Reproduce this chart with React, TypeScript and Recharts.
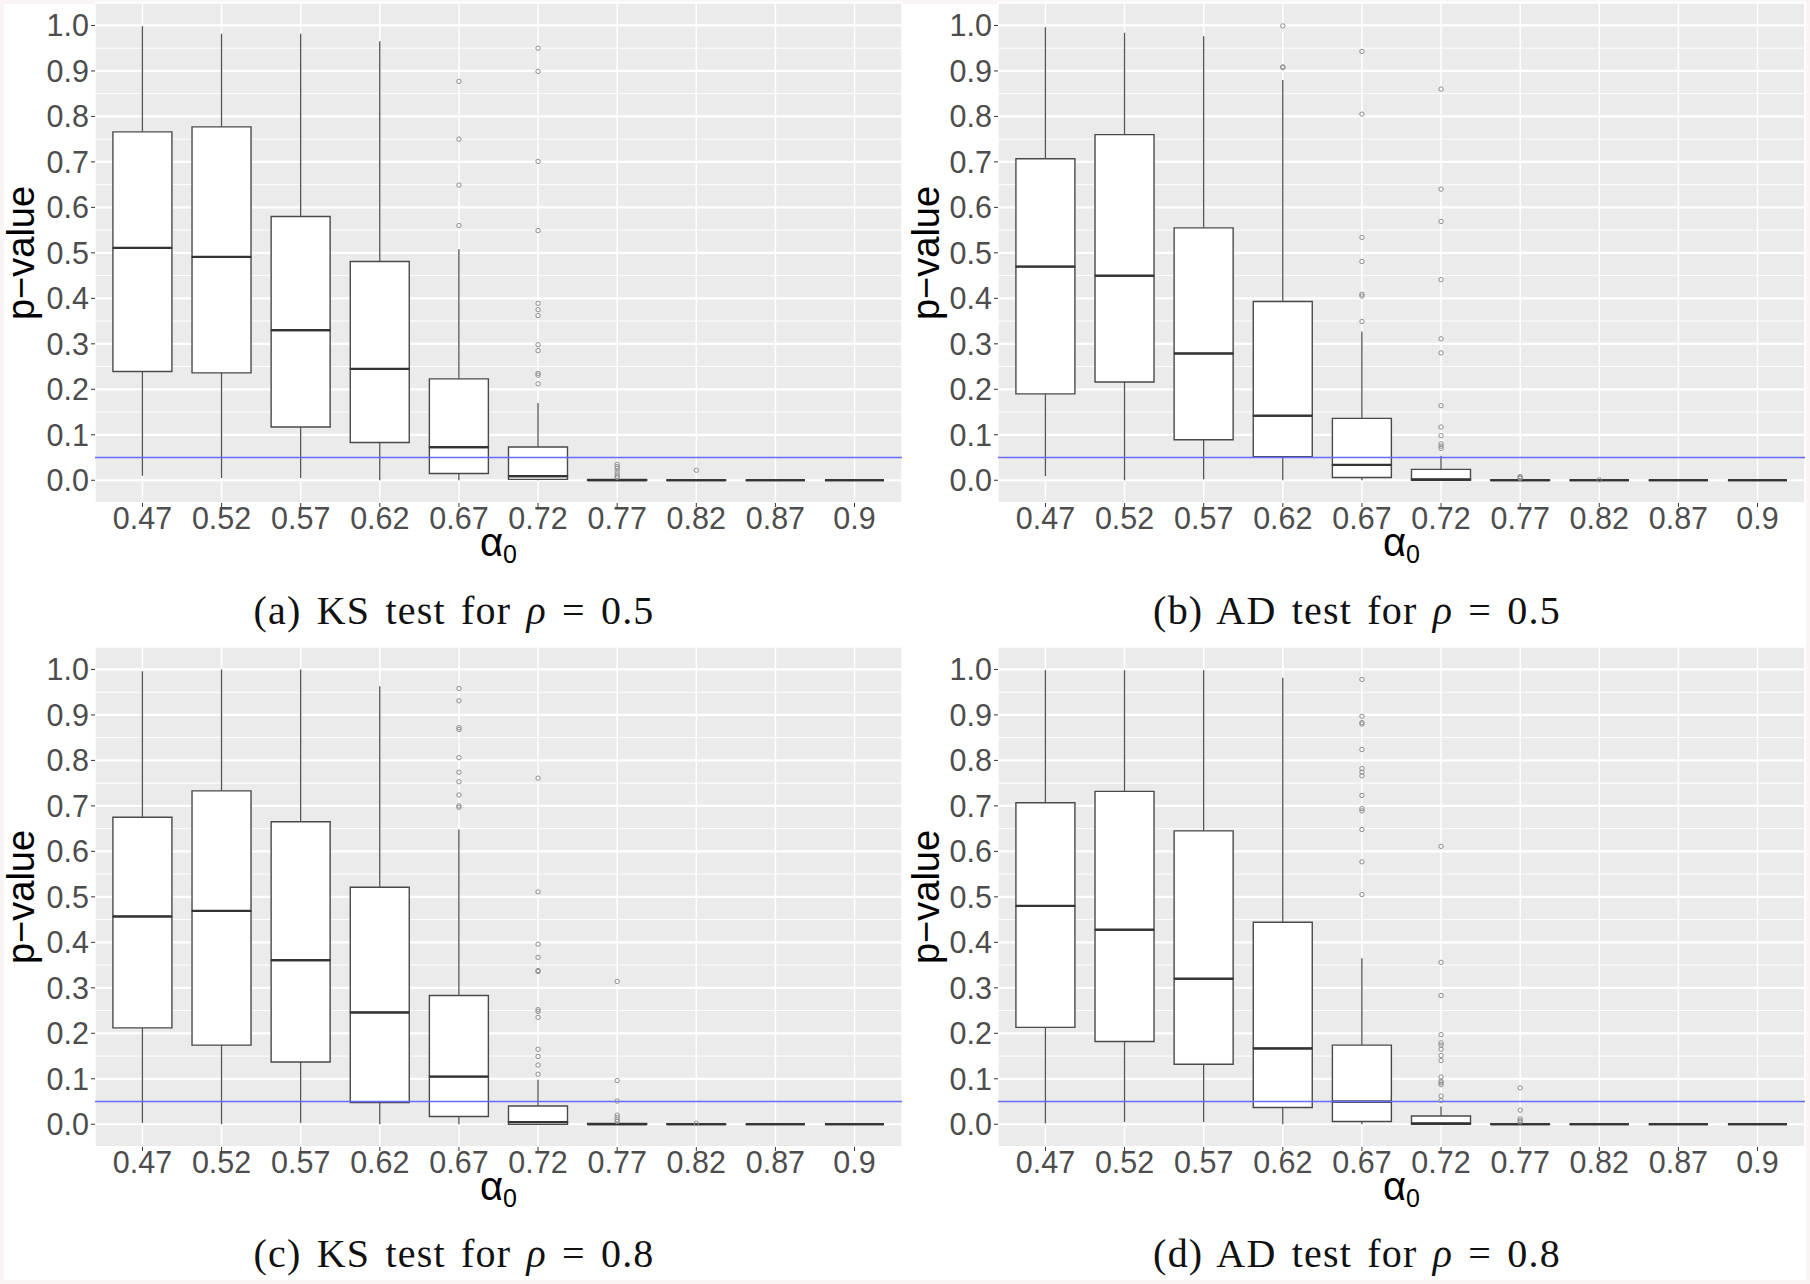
import React from "react";
import {
  ComposedChart,
  Bar,
  Scatter,
  XAxis,
  YAxis,
  CartesianGrid,
  ReferenceLine,
} from "recharts";

// ─── Axis values ─────────────────────────────────────────────────────────────

const ALPHA_LABELS = ["0.47", "0.52", "0.57", "0.62", "0.67", "0.72", "0.77", "0.82", "0.87", "0.9"];
const X_TICKS = [0, 1, 2, 3, 4, 5, 6, 7, 8, 9];
const Y_TICKS = [0, 0.1, 0.2, 0.3, 0.4, 0.5, 0.6, 0.7, 0.8, 0.9, 1.0];
const Y_MINOR = [0.05, 0.15, 0.25, 0.35, 0.45, 0.55, 0.65, 0.75, 0.85, 0.95];
const ALPHA_LEVEL = 0.05;

// ─── (a) KS test, rho = 0.5 ──────────────────────────────────────────────────

const ksRho05Low = [0.01, 0.005, 0.005, 0.0, 0.0, 0.0, 0.0, 0.0, 0.0, 0.0];
const ksRho05Q1 = [0.239, 0.236, 0.117, 0.083, 0.015, 0.002, 0.0, 0.0, 0.0, 0.0];
const ksRho05Median = [0.511, 0.491, 0.33, 0.245, 0.073, 0.009, 0.0005, 0.0, 0.0, 0.0];
const ksRho05Q3 = [0.766, 0.777, 0.58, 0.481, 0.223, 0.073, 0.002, 0.0005, 0.0, 0.0];
const ksRho05High = [0.998, 0.982, 0.982, 0.965, 0.508, 0.17, 0.005, 0.001, 0.0, 0.0];
const ksRho05Outliers = [
  [], [], [], [],
  [0.877, 0.75, 0.649, 0.56],
  [0.95, 0.899, 0.701, 0.549, 0.389, 0.375, 0.362, 0.298, 0.285, 0.235, 0.231, 0.212],
  [0.035, 0.03, 0.026, 0.02, 0.014, 0.009, 0.006],
  [0.022],
  [], [],
];

// ─── (b) AD test, rho = 0.5 ──────────────────────────────────────────────────

const adRho05Low = [0.009, 0.0, 0.002, 0.0, 0.0, 0.0, 0.0, 0.0, 0.0, 0.0];
const adRho05Q1 = [0.19, 0.216, 0.089, 0.052, 0.006, 0.0, 0.0, 0.0, 0.0, 0.0];
const adRho05Median = [0.47, 0.45, 0.279, 0.142, 0.034, 0.002, 0.0, 0.0, 0.0, 0.0];
const adRho05Q3 = [0.707, 0.76, 0.555, 0.393, 0.136, 0.024, 0.0005, 0.0, 0.0, 0.0];
const adRho05High = [0.996, 0.984, 0.976, 0.88, 0.327, 0.054, 0.001, 0.0, 0.0, 0.0];
const adRho05Outliers = [
  [], [], [],
  [0.999, 0.909, 0.907],
  [0.943, 0.805, 0.534, 0.481, 0.409, 0.405, 0.349],
  [0.86, 0.64, 0.569, 0.441, 0.311, 0.28, 0.164, 0.117, 0.098, 0.08, 0.075, 0.07],
  [0.008, 0.006, 0.004],
  [0.001],
  [], [],
];

// ─── (c) KS test, rho = 0.8 ──────────────────────────────────────────────────

const ksRho08Low = [0.003, 0.0, 0.003, 0.0, 0.0, 0.0, 0.0, 0.0, 0.0, 0.0];
const ksRho08Q1 = [0.212, 0.174, 0.137, 0.048, 0.017, 0.0, 0.0, 0.0, 0.0, 0.0];
const ksRho08Median = [0.457, 0.469, 0.361, 0.246, 0.105, 0.005, 0.0005, 0.0, 0.0, 0.0];
const ksRho08Q3 = [0.675, 0.733, 0.665, 0.521, 0.283, 0.04, 0.002, 0.0005, 0.0, 0.0];
const ksRho08High = [0.996, 1.0, 1.0, 0.963, 0.648, 0.098, 0.004, 0.001, 0.0, 0.0];
const ksRho08Outliers = [
  [], [], [], [],
  [0.958, 0.931, 0.872, 0.868, 0.806, 0.774, 0.753, 0.724, 0.7, 0.697],
  [0.761, 0.511, 0.396, 0.367, 0.338, 0.336, 0.252, 0.248, 0.235, 0.165, 0.149, 0.13, 0.11],
  [0.314, 0.096, 0.051, 0.02, 0.015, 0.01, 0.006],
  [0.002],
  [], [],
];

// ─── (d) AD test, rho = 0.8 ──────────────────────────────────────────────────

const adRho08Low = [0.002, 0.005, 0.005, 0.0, 0.0, 0.0, 0.0, 0.0, 0.0, 0.0];
const adRho08Q1 = [0.213, 0.182, 0.132, 0.037, 0.006, 0.0, 0.0, 0.0, 0.0, 0.0];
const adRho08Median = [0.48, 0.428, 0.32, 0.167, 0.05, 0.002, 0.0, 0.0, 0.0, 0.0];
const adRho08Q3 = [0.707, 0.732, 0.645, 0.444, 0.174, 0.018, 0.0005, 0.0, 0.0, 0.0];
const adRho08High = [0.998, 0.998, 0.998, 0.982, 0.365, 0.039, 0.002, 0.0, 0.0, 0.0];
const adRho08Outliers = [
  [], [], [], [],
  [0.978, 0.897, 0.883, 0.88, 0.824, 0.782, 0.774, 0.766, 0.723, 0.694, 0.689, 0.648, 0.577, 0.505],
  [0.611, 0.356, 0.283, 0.197, 0.179, 0.174, 0.165, 0.151, 0.14, 0.104, 0.095, 0.091, 0.087, 0.062, 0.052],
  [0.08, 0.031, 0.012, 0.008, 0.005],
  [],
  [], [],
];

// ─── Styles ──────────────────────────────────────────────────────────────────

const SANS = "'Liberation Sans', Arial, Helvetica, sans-serif";
const SERIF = "'Liberation Serif', 'Times New Roman', serif";
const BOX_STROKE = "#4a4a4a";
const CHART_W = 905;
const CHART_H = 575;
const BOX_W = 59;

// ─── Box plot pieces (stacked bar segments) ──────────────────────────────────

const Whisker = (p: any) => {
  const cx = p.x + p.width / 2;
  return <line x1={cx} x2={cx} y1={p.y} y2={p.y + p.height} stroke="#555" strokeWidth={1.3} />;
};

const BoxPart = (p: any, medianAtTop: boolean) => {
  const { x, y, width, height } = p;
  const my = medianAtTop ? y : y + height;
  return (
    <g>
      <path
        d={`M${x},${y}h${width}v${height}h${-width}Z`}
        fill="#fff"
        stroke={BOX_STROKE}
        strokeWidth={1.4}
      />
      <line x1={x} x2={x + width} y1={my} y2={my} stroke="#333" strokeWidth={2.2} />
    </g>
  );
};

const Outlier = (p: any) => (
  <circle cx={p.cx} cy={p.cy} r={2.2} fill="none" stroke="#8f8f8f" strokeWidth={1} />
);

type PanelProps = {
  low: number[];
  q1: number[];
  median: number[];
  q3: number[];
  high: number[];
  outliers: number[][];
  yAxisWidth: number;
  rightMargin: number;
};

function BoxPanel({ low, q1, median, q3, high, outliers, yAxisWidth, rightMargin }: PanelProps) {
  const rows = ALPHA_LABELS.map((_, i) => ({
    i,
    base: low[i],
    lowW: q1[i] - low[i],
    lowBox: median[i] - q1[i],
    highBox: q3[i] - median[i],
    highW: high[i] - q3[i],
  }));
  const points = outliers.flatMap((vals, i) => vals.map((v) => ({ i, v })));
  const plotLeft = yAxisWidth;
  const plotRight = CHART_W - rightMargin;
  const midX = (plotLeft + plotRight) / 2;

  return (
    <ComposedChart
      width={CHART_W}
      height={CHART_H}
      data={rows}
      margin={{ top: 2.7, right: rightMargin, bottom: 0, left: 0 }}
    >
      <CartesianGrid fill="#EBEBEB" horizontal={false} stroke="#fff" strokeWidth={1.5} />
      <CartesianGrid vertical={false} horizontalValues={Y_MINOR} stroke="#fff" strokeWidth={1} />
      <CartesianGrid vertical={false} stroke="#fff" strokeWidth={2.2} />
      <XAxis
        dataKey="i"
        type="number"
        domain={[-0.6, 9.6]}
        ticks={X_TICKS}
        interval={0}
        height={CHART_H - 503}
        tickFormatter={(v: number) => ALPHA_LABELS[v]}
        axisLine={false}
        tickSize={4}
        tickMargin={0}
        tickLine={{ stroke: "#333" }}
        tick={{ fontSize: 30.5, fill: "#4d4d4d", fontFamily: SANS }}
        label={{
          content: () => (
            <text x={midX} y={556} textAnchor="middle" fontFamily={SANS} fill="#000">
              <tspan fontSize={40}>α</tspan>
              <tspan fontSize={25} dy={7}>0</tspan>
            </text>
          ),
        }}
      />
      <YAxis
        type="number"
        domain={[-0.05, 1.05]}
        ticks={Y_TICKS}
        interval={0}
        width={yAxisWidth}
        allowDataOverflow
        tickFormatter={(v: number) => v.toFixed(1)}
        axisLine={false}
        tickSize={4}
        tickMargin={2}
        tickLine={{ stroke: "#333" }}
        tick={{ fontSize: 30.5, fill: "#4d4d4d", fontFamily: SANS }}
        label={{
          content: () => (
            <text
              x={21}
              y={253}
              transform="rotate(-90, 21, 253)"
              textAnchor="middle"
              dominantBaseline="central"
              fontSize={38}
              fontFamily={SANS}
              fill="#000"
            >
              p−value
            </text>
          ),
        }}
      />
      <Bar dataKey="base" stackId="box" barSize={BOX_W} isAnimationActive={false} shape={() => <g />} />
      <Bar dataKey="lowW" stackId="box" barSize={BOX_W} isAnimationActive={false} shape={Whisker} />
      <Bar dataKey="lowBox" stackId="box" barSize={BOX_W} isAnimationActive={false} shape={(p: any) => BoxPart(p, true)} />
      <Bar dataKey="highBox" stackId="box" barSize={BOX_W} isAnimationActive={false} shape={(p: any) => BoxPart(p, false)} />
      <Bar dataKey="highW" stackId="box" barSize={BOX_W} isAnimationActive={false} shape={Whisker} />
      <Scatter data={points} dataKey="v" isAnimationActive={false} shape={Outlier} />
      <ReferenceLine y={ALPHA_LEVEL} stroke="#6a6aff" strokeWidth={1.3} />
    </ComposedChart>
  );
}

function Caption({ letter, test, rho, cx, baseline }: { letter: string; test: string; rho: string; cx: number; baseline: number }) {
  return (
    <div
      style={{
        position: "absolute",
        left: cx - 300,
        width: 600,
        top: baseline - 38,
        textAlign: "center",
        fontFamily: SERIF,
        fontSize: 40,
        lineHeight: "48px",
        letterSpacing: "1.2px",
        wordSpacing: "4px",
        color: "#111",
        whiteSpace: "nowrap",
      }}
    >
      ({letter}) {test} test for <i>ρ</i> = {rho}
    </div>
  );
}

export default function App() {
  return (
    <div
      style={{
        position: "absolute",
        left: 0,
        top: 0,
        width: 1810,
        height: 1284,
        background: "#fff",
        overflow: "hidden",
        boxShadow: "inset 0 0 0 4px #faf5f4",
      }}
    >
      <div style={{ position: "absolute", left: 0, top: 0 }}>
        <BoxPanel low={ksRho05Low} q1={ksRho05Q1} median={ksRho05Median} q3={ksRho05Q3} high={ksRho05High} outliers={ksRho05Outliers} yAxisWidth={95} rightMargin={3} />
      </div>
      <div style={{ position: "absolute", left: 905, top: 0 }}>
        <BoxPanel low={adRho05Low} q1={adRho05Q1} median={adRho05Median} q3={adRho05Q3} high={adRho05High} outliers={adRho05Outliers} yAxisWidth={93} rightMargin={5} />
      </div>
      <div style={{ position: "absolute", left: 0, top: 644 }}>
        <BoxPanel low={ksRho08Low} q1={ksRho08Q1} median={ksRho08Median} q3={ksRho08Q3} high={ksRho08High} outliers={ksRho08Outliers} yAxisWidth={95} rightMargin={3} />
      </div>
      <div style={{ position: "absolute", left: 905, top: 644 }}>
        <BoxPanel low={adRho08Low} q1={adRho08Q1} median={adRho08Median} q3={adRho08Q3} high={adRho08High} outliers={adRho08Outliers} yAxisWidth={93} rightMargin={5} />
      </div>
      <Caption letter="a" test="KS" rho="0.5" cx={454} baseline={625} />
      <Caption letter="b" test="AD" rho="0.5" cx={1357} baseline={625} />
      <Caption letter="c" test="KS" rho="0.8" cx={454} baseline={1268} />
      <Caption letter="d" test="AD" rho="0.8" cx={1357} baseline={1268} />
    </div>
  );
}
